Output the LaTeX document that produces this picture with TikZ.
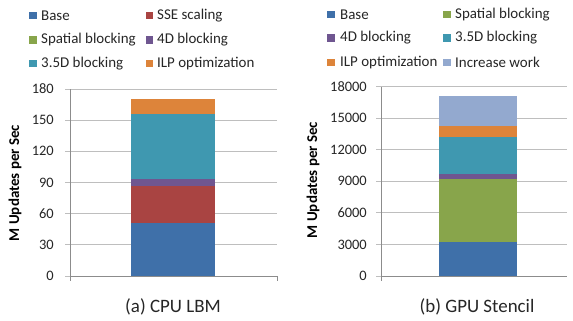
\documentclass[tikz,border=0pt]{standalone}
\usepackage{fontspec}
\setmainfont{Carlito}
\definecolor{cBase}{HTML}{3F70A9}
\definecolor{cSSE}{HTML}{A94442}
\definecolor{cSpat}{HTML}{88A54B}
\definecolor{cFour}{HTML}{6F5690}
\definecolor{cThree}{HTML}{3F98B0}
\definecolor{cILP}{HTML}{DD843A}
\definecolor{cInc}{HTML}{93A9CF}
\definecolor{cGrid}{HTML}{BEBEBE}
\definecolor{cAxis}{HTML}{8C8C8C}
\begin{document}
\begin{tikzpicture}[x=1bp,y=-1bp,
  grid/.style={draw=cGrid,line width=1bp},
  axisline/.style={draw=cAxis,line width=0.9bp},
  ticklab/.style={anchor=east,inner sep=0pt,font=\fontsize{14.5}{16}\selectfont,text=black!85},
  ytitle/.style={rotate=90,inner sep=0pt,font=\fontsize{15}{17}\bfseries\selectfont},
  caption/.style={inner sep=0pt,font=\fontsize{19}{22}\selectfont,text=black!85},
  legsq/.style={minimum size=7.5bp,inner sep=0pt},
  legtext/.style={anchor=west,inner sep=0pt,font=\fontsize{15}{17}\selectfont,text=black!85}]
\useasboundingbox (0,0) rectangle (573,320);
\fill[white] (0,0) rectangle (573,320);

% ===== Left chart =====
\begin{scope}[shift={(0,276)},yscale=187/180]
  \foreach \v in {30,60,...,180} \draw[grid] (65,-\v) -- (277,-\v);
  \fill[cBase]  (131,0)   rectangle (215,-51);
  \fill[cSSE]   (131,-51) rectangle (215,-87);
  \fill[cFour]  (131,-87) rectangle (215,-93.4);
  \fill[cThree] (131,-93.4) rectangle (215,-156);
  \fill[cILP]   (131,-156) rectangle (215,-170.5);
  \foreach \v in {0,30,...,180} \node[ticklab] (la\v) at (54,-\v) {\v};
\end{scope}
\draw[grid] (65,276) -- (70,276);
\draw[axisline] (70,89) -- (70,281);
\draw[axisline] (70,276) -- (277,276);
\draw[axisline] (277,276) -- (277,281);
\node[ytitle] (lyt) at (15,183) {M Updates per Sec};
\node[caption] (lcap) at (173,307) {(a) CPU LBM};

% ===== Right chart (values in thousands) =====
\begin{scope}[shift={(0,276)},yscale=189.3/18]
  \foreach \v in {3,6,...,18} \draw[grid] (376,-\v) -- (567,-\v);
  \fill[cBase]  (439,0)     rectangle (517,-3.233);
  \fill[cSpat]  (439,-3.233) rectangle (517,-9.22);
  \fill[cFour]  (439,-9.22) rectangle (517,-9.68);
  \fill[cThree] (439,-9.68) rectangle (517,-13.19);
  \fill[cILP]   (439,-13.19) rectangle (517,-14.263);
  \fill[cInc]   (439,-14.263) rectangle (517,-17.115);
  \foreach \v/\t in {0/0,3/3000,6/6000,9/9000,12/12000,15/15000,18/18000} \node[ticklab] (ra\v) at (367,-\v) {\t};
\end{scope}
\draw[grid] (376,276) -- (381,276);
\draw[axisline] (381,87) -- (381,281);
\draw[axisline] (381,276) -- (567,276);
\node[ytitle] (ryt) at (313,180) {M Updates per Sec};
\node[caption] (rcap) at (477,307) {(b) GPU Stencil};

% ===== Left legend =====
\node[legsq,fill=cBase]  (l1s) at (33,15.5) {};  \node[legtext] (l1t) at (41,15.5) {Base};
\node[legsq,fill=cSSE]   (l2s) at (149.5,15.5) {}; \node[legtext] (l2t) at (157,15.5) {SSE scaling};
\node[legsq,fill=cSpat]  (l3s) at (33,40) {};  \node[legtext] (l3t) at (41,40) {Spatial blocking};
\node[legsq,fill=cFour]  (l4s) at (149.5,40) {}; \node[legtext] (l4t) at (157,40) {4D blocking};
\node[legsq,fill=cThree] (l5s) at (33,63.5) {};  \node[legtext] (l5t) at (41,63.5) {3.5D blocking};
\node[legsq,fill=cILP]   (l6s) at (149.5,63.5) {}; \node[legtext] (l6t) at (157,63.5) {ILP optimization};

% ===== Right legend =====
\node[legsq,fill=cBase]  (r1s) at (331,14.5) {};  \node[legtext] (r1t) at (340,14.5) {Base};
\node[legsq,fill=cSpat]  (r2s) at (447,14.5) {};  \node[legtext] (r2t) at (455,14.5) {Spatial blocking};
\node[legsq,fill=cFour]  (r3s) at (331,38) {};  \node[legtext] (r3t) at (340,38) {4D blocking};
\node[legsq,fill=cThree] (r4s) at (447,38) {};  \node[legtext] (r4t) at (455,38) {3.5D blocking};
\node[legsq,fill=cILP]   (r5s) at (331,62.5) {};  \node[legtext] (r5t) at (340,62.5) {ILP optimization};
\node[legsq,fill=cInc]   (r6s) at (447,62.5) {};  \node[legtext] (r6t) at (455,62.5) {Increase work};
\end{tikzpicture}
\end{document}
